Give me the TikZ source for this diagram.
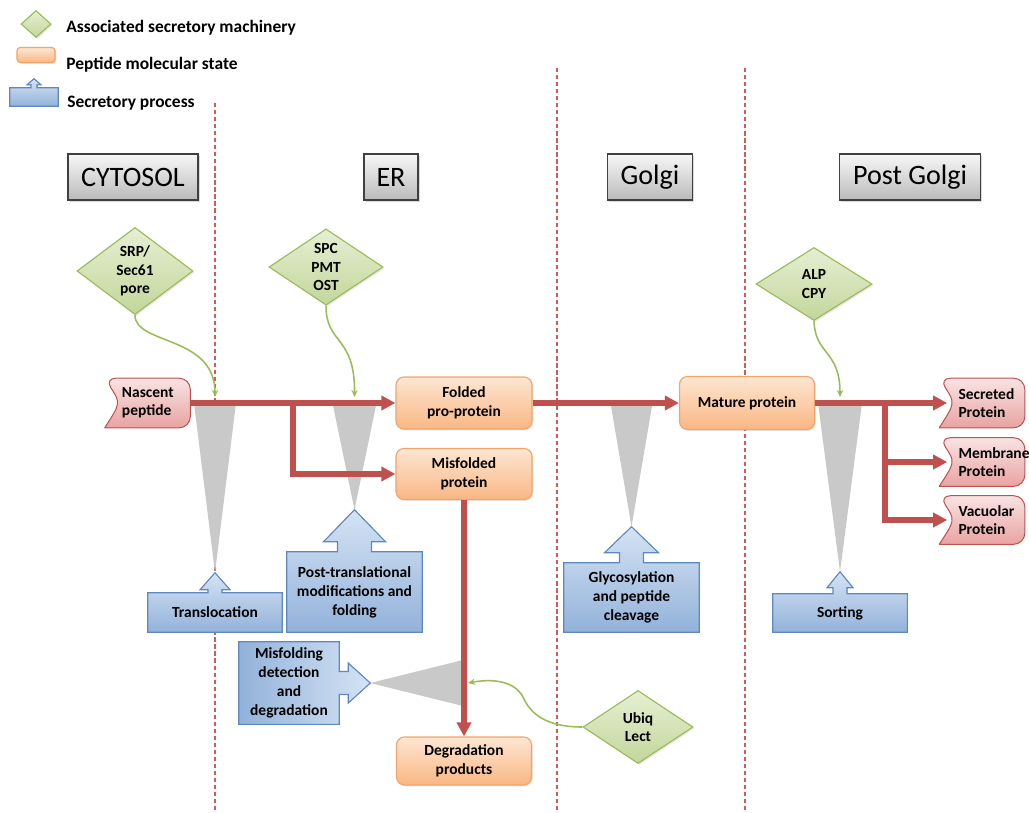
\documentclass[tikz,border=0pt]{standalone}
\usepackage{fontspec}
\setmainfont{Carlito}
\usetikzlibrary{calc,arrows.meta,shapes.geometric,backgrounds,shadows}

\definecolor{linered}{HTML}{C0504D}
\definecolor{dashred}{HTML}{D55A56}
\definecolor{machA}{HTML}{E6EFD3}
\definecolor{machB}{HTML}{C3D69B}
\definecolor{machline}{HTML}{9BBB59}
\definecolor{stateA}{HTML}{FDE6D2}
\definecolor{stateB}{HTML}{F9B784}
\definecolor{stateline}{HTML}{F2A46A}
\definecolor{procA}{HTML}{D5E3F4}
\definecolor{procB}{HTML}{92B2DA}
\definecolor{procline}{HTML}{5F88BF}
\definecolor{pepA}{HTML}{F9E3E3}
\definecolor{pepB}{HTML}{E8A3A2}
\definecolor{wedge}{HTML}{C9C9C9}

\tikzset{
  mach/.style={diamond, draw=machline, line width=0.8pt, top color=machA, bottom color=machB,
    inner sep=0pt, align=center, font=\bfseries\fontsize{11}{13}\selectfont,
    drop shadow={opacity=0.2,shadow xshift=1pt,shadow yshift=-1pt}},
  state/.style={rectangle, rounded corners=0.2cm, draw=stateline, line width=0.8pt,
    top color=stateA, bottom color=stateB, align=center,
    font=\bfseries\fontsize{11}{13.5}\selectfont,
    drop shadow={opacity=0.2,shadow xshift=1pt,shadow yshift=-1pt}},
  region/.style={rectangle, draw=black!75, line width=0.9pt, top color=black!3,
    bottom color=black!27, minimum height=1.15cm, font=\fontsize{20}{24}\selectfont,
    drop shadow={opacity=0.3,shadow xshift=1.2pt,shadow yshift=-1.2pt}},
  proc/.style={rectangle, inner sep=2pt, align=center, font=\bfseries\fontsize{11}{13.5}\selectfont},
  procfill/.style={draw=procline, line width=0.8pt, top color=procA, bottom color=procB},
  pepstate/.style={rectangle, inner sep=0pt},
  peptext/.style={inner sep=0pt, align=left, font=\bfseries\fontsize{11}{13}\selectfont},
  pepfill/.style={draw=linered, line width=0.7pt, top color=pepA, bottom color=pepB},
  legtext/.style={anchor=west, inner sep=0pt, font=\bfseries\fontsize{12.4}{14}\selectfont},
  flow/.style={draw=linered, line width=3.8pt, -{Triangle[length=10pt,width=10pt]}},
  assoc/.style={draw=machline, line width=1.1pt, -{Stealth[length=5pt,width=4.5pt]}},
  divider/.style={draw=dashred, line width=0.75pt, dash pattern=on 3pt off 2pt},
}

% box with an arrow on top: node, tip height, shaft half, head half, head height
\newcommand{\procup}[5]{%
  \coordinate (#1-tip) at ($(#1.north)+(0,-#2)$);
  \begin{pgfonlayer}{background}
  \filldraw[procfill] (#1.south west) -- (#1.north west) -- ($(#1.north)+(-#3,0)$)
    -- ($(#1.north)+(-#3,{-(#2-#5)})$) -- ($(#1.north)+(-#4,{-(#2-#5)})$) -- (#1-tip)
    -- ($(#1.north)+(#4,{-(#2-#5)})$) -- ($(#1.north)+(#3,{-(#2-#5)})$)
    -- ($(#1.north)+(#3,0)$) -- (#1.north east) -- (#1.south east) -- cycle;
  \end{pgfonlayer}}

% peptide end shape: hollow left side, round right side
\newcommand{\pepshape}[1]{%
  \begin{pgfonlayer}{background}
  \filldraw[pepfill, rounded corners=0.28cm] (#1.south west) -- (#1.south east) -- (#1.north east)
    -- (#1.north west) [sharp corners] .. controls ($(#1.west)+(16,0)$) .. (#1.south west);
  \end{pgfonlayer}
  \coordinate (#1-in) at ($(#1.west)+(8,0)$);}

\begin{document}
\begin{tikzpicture}[x=0.025cm,y=-0.025cm]
\useasboundingbox (0,0) rectangle (1029,812);

% compartments
\begin{pgfonlayer}{background}
\draw[divider] (215,103) -- (215,812);
\draw[divider] (557,68) -- (557,812);
\draw[divider] (745,68) -- (745,812);
\end{pgfonlayer}

% legend
\node[mach, minimum width=0.75cm, minimum height=0.675cm] (legd) at (36,24) {};
\node[legtext] (legd-t) at (66,28) {Associated secretory machinery};
\node[state, rounded corners=0.08cm, minimum width=0.95cm, minimum height=0.375cm] (legs) at (36,55) {};
\node[legtext] (legs-t) at (66,65) {Peptide molecular state};
\node[proc, minimum width=1.2cm, minimum height=0.45cm] (legp) at (34,97) {};
\procup{legp}{9}{3}{7}{6}
\node[legtext] (legp-t) at (67,103) {Secretory process};

% compartment titles
\node[region, minimum width=3.25cm] (cyto) at (133,177) {CYTOSOL};
\node[region, minimum width=1.35cm] (er) at (391,177) {ER};
\node[region, minimum width=2.125cm] (golgi) at (650,177) {Golgi};
\node[region, minimum width=3.525cm] (postg) at (910,177) {Post Golgi};

% machinery
\node[mach, minimum width=2.9cm, minimum height=1.95cm] (srp) at (135,271) {SRP/\\Sec61\\pore};
\node[mach, minimum width=2.85cm, minimum height=1.85cm] (spc) at (326,267) {SPC\\PMT\\OST};
\node[mach, minimum width=2.9cm, minimum height=1.825cm] (alp) at (814,284) {ALP\\CPY};
\node[mach, minimum width=2.75cm, minimum height=1.825cm] (ubiq) at (638,727) {Ubiq\\Lect};

% peptide states
\node[state, minimum width=3.4cm, minimum height=1.3cm] (fold) at (464,403) {Folded\\pro-protein};
\node[state, minimum width=3.4cm, minimum height=1.275cm] (misf) at (464,474) {Misfolded\\protein};
\node[state, minimum width=3.375cm, minimum height=1.325cm] (mature) at (747,403) {Mature protein};
\node[state, minimum width=3.375cm, minimum height=1.2cm] (degr) at (464,761) {Degradation\\products};

% peptide ends
\node[pepstate, minimum width=2.125cm, minimum height=1.225cm] (nasc) at (147.5,403) {};
\pepshape{nasc}
\node[peptext, anchor=west] (nasc-t) at ($(nasc.west)+(17,0)$) {Nascent\\peptide};
\node[pepstate, minimum width=2.125cm, minimum height=1.225cm] (secr) at (982,403) {};
\pepshape{secr}
\node[peptext, anchor=west] (secr-t) at ($(secr.west)+(19,0)$) {Secreted\\Protein};
\node[pepstate, minimum width=2.125cm, minimum height=1.2cm] (memb) at (982,462) {};
\pepshape{memb}
\node[peptext, anchor=west] (memb-t) at ($(memb.west)+(19,0)$) {Membrane\\Protein};
\node[pepstate, minimum width=2.125cm, minimum height=1.2cm] (vacu) at (982,520) {};
\pepshape{vacu}
\node[peptext, anchor=west] (vacu-t) at ($(vacu.west)+(19,0)$) {Vacuolar\\Protein};

% processes
\node[proc, minimum width=3.35cm, minimum height=0.975cm] (transl) at (215,612.5) {Translocation};
\procup{transl}{20}{7}{15}{17}
\node[proc, minimum width=3.375cm, minimum height=2.0cm] (ptm) at (354.5,592) {Post-translational\\modifications and\\folding};
\procup{ptm}{42}{17}{31}{32}
\node[proc, minimum width=3.375cm, minimum height=1.725cm] (glyco) at (631.5,597.5) {Glycosylation\\and peptide\\cleavage};
\procup{glyco}{36}{12}{27}{26}
\node[proc, minimum width=3.35cm, minimum height=0.95cm] (sort) at (840,613) {Sorting};
\procup{sort}{22}{7}{13}{16}
\node[proc, minimum width=2.5cm, minimum height=2.05cm] (misdet) at (289,683) {Misfolding\\detection\\and\\degradation};
\coordinate (misdet-tip) at ($(misdet.east)+(31,0)$);
\begin{pgfonlayer}{background}
\filldraw[procfill, left color=procB, right color=procA]
  (misdet.north west) -- (misdet.north east) -- ($(misdet.east)+(0,-11.5)$)
  -- ($(misdet.east)+(9,-11.5)$) -- ($(misdet.east)+(9,-20)$) -- (misdet-tip)
  -- ($(misdet.east)+(9,20)$) -- ($(misdet.east)+(9,11.5)$) -- ($(misdet.east)+(0,11.5)$)
  -- (misdet.south east) -- (misdet.south west) -- cycle;
% process wedges
\fill[wedge] ($(transl-tip |- fold.west)+(-21,0)$) -- ($(transl-tip |- fold.west)+(21,0)$) -- (transl-tip) -- cycle;
\fill[wedge] ($(ptm-tip |- fold.west)+(-22,0)$) -- ($(ptm-tip |- fold.west)+(22,0)$) -- (ptm-tip) -- cycle;
\fill[wedge] ($(glyco-tip |- fold.west)+(-21,0)$) -- ($(glyco-tip |- fold.west)+(21,0)$) -- (glyco-tip) -- cycle;
\fill[wedge] ($(sort-tip |- fold.west)+(-22,0)$) -- ($(sort-tip |- fold.west)+(22,0)$) -- (sort-tip) -- cycle;
\fill[wedge] (misdet-tip) -- ($(misf.south |- misdet-tip)+(-1,-23)$) -- ($(misf.south |- misdet-tip)+(-1,23)$) -- cycle;
\end{pgfonlayer}

% peptide flow
\coordinate (br1) at (293,403);
\coordinate (br2) at (885,403);
\draw[flow] (nasc.east) -- (fold.west);
\draw[flow] (br1) |- (misf.west);
\draw[flow] (fold.east) -- (mature.west);
\draw[flow] (mature.east) -- (secr-in);
\draw[flow] (br2) |- (memb-in);
\draw[flow] (br2) |- (vacu-in);
\draw[flow] (misf.south) -- (degr.north);

% machinery acting on the flow
\coordinate (srp-end) at ($(transl-tip |- fold.west)+(0,-6)$);
\coordinate (spc-end) at ($(ptm-tip |- fold.west)+(0,-6)$);
\coordinate (alp-end) at ($(sort-tip |- fold.west)+(0,-6)$);
\coordinate (ubiq-end) at (468,683);
\draw[assoc] (srp.south) .. controls (135,345) and (215,335) .. (srp-end);
\draw[assoc] (spc.south) .. controls (326,345) and (355,335) .. (spc-end);
\draw[assoc] (alp.south) .. controls (815,355) and (840,350) .. (alp-end);
\draw[assoc] (ubiq.west) .. controls (545,727) and (530,713) .. (523,697) .. controls (515,682) and (495,678) .. (ubiq-end);
\end{tikzpicture}
\end{document}
